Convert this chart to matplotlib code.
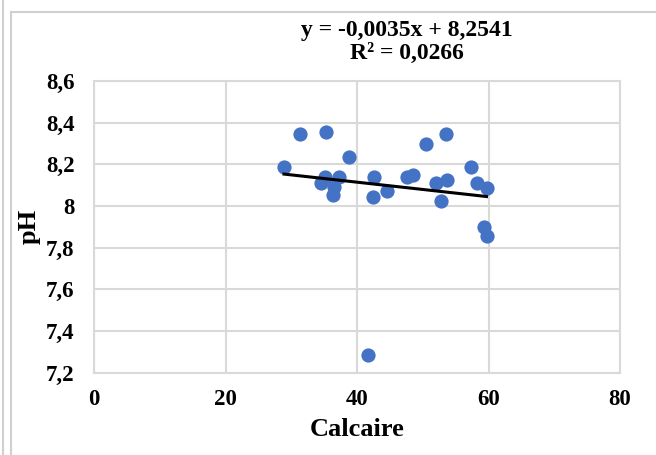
import numpy as np
from matplotlib import pyplot as plt
from matplotlib.lines import Line2D

# data
calcaire = [28.9, 31.4, 35.3, 38.8, 35.1, 34.5, 37.2, 36.5, 36.3, 42.6,
            42.4, 44.5, 47.6, 48.5, 50.5, 53.6, 52.0, 53.7, 52.8, 57.3,
            58.2, 59.7, 59.3, 59.7, 41.7]
ph = [8.186, 8.344, 8.356, 8.234, 8.137, 8.112, 8.137, 8.089, 8.052, 8.137,
      8.041, 8.073, 8.137, 8.147, 8.299, 8.347, 8.109, 8.124, 8.025, 8.186,
      8.112, 8.088, 7.897, 7.855, 7.284]
slope = -0.0035
intercept = 8.2541
r2 = 0.0266

x_ticks = [0, 20, 40, 60, 80]
y_ticks = [7.2, 7.4, 7.6, 7.8, 8.0, 8.2, 8.4, 8.6]
y_labels = ['7,2', '7,4', '7,6', '7,8', '8', '8,2', '8,4', '8,6']

font = 'Liberation Serif'
grid_col = '#D9D9D9'

fig = plt.figure(figsize=(6.56, 4.55), dpi=100)
ax = fig.add_axes([94 / 656, 1 - 372.5 / 455, 526 / 656, 291.5 / 455])

ax.scatter(calcaire, ph, s=105, color='#4472C4', zorder=3, linewidths=0)

xs = np.array([min(calcaire), max(calcaire)])
ax.plot(xs, slope * xs + intercept, color='black', lw=2.2, zorder=4)

ax.set_xlim(0, 80)
ax.set_ylim(7.2, 8.6)
ax.set_xticks(x_ticks)
ax.set_yticks(y_ticks)
ax.set_xticklabels([str(v) for v in x_ticks], fontfamily=font, fontweight='bold', fontsize=16.5)
ax.set_yticklabels(y_labels, fontfamily=font, fontweight='bold', fontsize=16.5)
ax.tick_params(length=0, pad=12)
ax.tick_params(axis='y', pad=14)
ax.grid(True, color=grid_col, lw=1.5)
ax.set_axisbelow(True)
for s in ax.spines.values():
    s.set_color(grid_col)
    s.set_linewidth(1.5)

ax.set_xlabel('Calcaire', fontfamily=font, fontweight='bold', fontsize=19, labelpad=6)
ax.set_ylabel('pH', fontfamily=font, fontweight='bold', fontsize=19, labelpad=4)

eq = 'y = -0,0035x + %s\nR² = %s' % (str(intercept).replace('.', ','), str(r2).replace('.', ','))
fig.text(407 / 656, 1 - 42 / 455, eq, ha='center', va='center',
         fontfamily=font, fontweight='bold', fontsize=17, linespacing=1.1)

# outer chart frame
frame = '#D0D0D0'
fig.add_artist(Line2D([11 / 656, 11 / 656], [0, 1 - 12 / 455], color=frame, lw=1.5))
fig.add_artist(Line2D([11 / 656, 1], [1 - 12 / 455, 1 - 12 / 455], color=frame, lw=1.5))
fig.add_artist(Line2D([3 / 656, 3 / 656], [0, 1], color=frame, lw=1.5))

fig.savefig('out.png', dpi=100)
